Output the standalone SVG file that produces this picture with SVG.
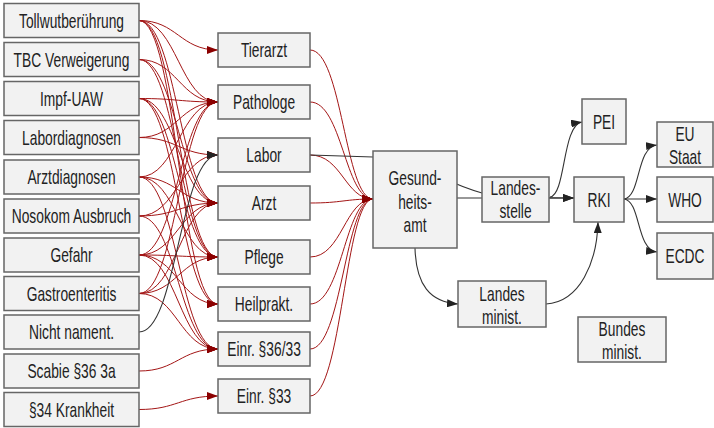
<svg xmlns="http://www.w3.org/2000/svg" width="714" height="428" viewBox="0 0 714 428">
<style>
.n rect{fill:#f2f2f2;stroke:#666;stroke-width:1.5}
.n text{font-family:"Liberation Sans",Arial,sans-serif;font-size:20px;fill:#222;text-anchor:middle}
.r{fill:none;stroke:#a31515;stroke-width:1;marker-end:url(#ar)}
.k{fill:none;stroke:#333;stroke-width:1.1;marker-end:url(#ak)}
</style>
<defs>
<marker id="ar" markerUnits="userSpaceOnUse" markerWidth="11" markerHeight="8" refX="11" refY="4" orient="auto"><path d="M0,0 L11,4 L0,8 z" fill="#8b0000"/></marker>
<marker id="ak" markerUnits="userSpaceOnUse" markerWidth="11" markerHeight="8" refX="11" refY="4" orient="auto"><path d="M0,0 L11,4 L0,8 z" fill="#222"/></marker>
</defs>
<g id="connectors">
<path class="r" d="M139,20.5 C177,20.5 180,50 218,50"/>
<path class="r" d="M139,20.5 C177,20.5 180,102 218,102"/>
<path class="r" d="M139,20.5 C177,20.5 180,203 218,203"/>
<path class="r" d="M139,20.5 C177,20.5 180,257 218,257"/>
<path class="r" d="M139,20.5 C177,20.5 180,304 218,304"/>
<path class="r" d="M139,59.5 C177,59.5 180,102 218,102"/>
<path class="r" d="M139,59.5 C177,59.5 180,203 218,203"/>
<path class="r" d="M139,59.5 C177,59.5 180,257 218,257"/>
<path class="r" d="M139,98.5 C177,98.5 180,102 218,102"/>
<path class="r" d="M139,98.5 C177,98.5 180,203 218,203"/>
<path class="r" d="M139,98.5 C177,98.5 180,257 218,257"/>
<path class="r" d="M139,98.5 C177,98.5 180,304 218,304"/>
<path class="r" d="M139,137.5 C177,137.5 180,102 218,102"/>
<path class="r" d="M139,137.5 C177,137.5 180,155 218,155"/>
<path class="r" d="M139,177 C177,177 180,102 218,102"/>
<path class="r" d="M139,177 C177,177 180,203 218,203"/>
<path class="r" d="M139,177 C177,177 180,257 218,257"/>
<path class="r" d="M139,177 C177,177 180,349 218,349"/>
<path class="r" d="M139,216 C177,216 180,155 218,155"/>
<path class="r" d="M139,216 C177,216 180,203 218,203"/>
<path class="r" d="M139,216 C177,216 180,349 218,349"/>
<path class="r" d="M139,255 C177,255 180,102 218,102"/>
<path class="r" d="M139,255 C177,255 180,203 218,203"/>
<path class="r" d="M139,255 C177,255 180,257 218,257"/>
<path class="r" d="M139,255 C177,255 180,304 218,304"/>
<path class="r" d="M139,255 C177,255 180,349 218,349"/>
<path class="r" d="M139,293.5 C177,293.5 180,102 218,102"/>
<path class="r" d="M139,293.5 C177,293.5 180,203 218,203"/>
<path class="r" d="M139,293.5 C177,293.5 180,257 218,257"/>
<path class="r" d="M139,293.5 C177,293.5 180,349 218,349"/>
<path class="r" d="M139,371 C177,371 180,349 218,349"/>
<path class="r" d="M139,409.5 C177,409.5 180,396 218,396"/>
<path class="k" d="M139,332 C177,332 180,155 218,155"/>
<path class="r" d="M310,50 C342,50 345,199 373,199"/>
<path class="r" d="M310,102 C342,102 345,199 373,199"/>
<path class="r" d="M310,155 C342,155 345,199 373,199"/>
<path class="r" d="M310,203 C342,203 345,199 373,199"/>
<path class="r" d="M310,257 C342,257 345,199 373,199"/>
<path class="r" d="M310,304 C342,304 345,199 373,199"/>
<path class="r" d="M310,349 C342,349 345,199 373,199"/>
<path class="r" d="M310,396 C342,396 345,199 373,199"/>
<path class="k" d="M310,155 L373,157 C420,160 440,182 482,193 C510,198 540,198 574,198"/>
<path class="k" d="M457,198 L574,198"/>
<path class="k" d="M550,197 C566,195 562,125 582,122"/>
<path class="k" d="M624,199 C641,197 636,147 657,145"/>
<path class="k" d="M624,199 L657,199"/>
<path class="k" d="M624,199 C641,201 636,250 657,252"/>
<path class="k" d="M415,248 C416,285 430,302 458,304"/>
<path class="k" d="M546,304 C580,302 597,262 598,222"/>
</g>
<g id="n_tollwut" class="n"><rect x="4" y="3.5" width="135" height="34"/><text transform="translate(71.5,27.7) scale(0.69,1)">Tollwutberührung</text></g>
<g id="n_tbc" class="n"><rect x="4" y="42.5" width="135" height="34"/><text transform="translate(71.5,66.7) scale(0.69,1)">TBC Verweigerung</text></g>
<g id="n_impf" class="n"><rect x="4" y="81.5" width="135" height="34"/><text transform="translate(71.5,105.7) scale(0.69,1)">Impf-UAW</text></g>
<g id="n_labordiag" class="n"><rect x="4" y="120.5" width="135" height="34"/><text transform="translate(71.5,144.7) scale(0.69,1)">Labordiagnosen</text></g>
<g id="n_arztdiag" class="n"><rect x="4" y="160" width="135" height="34"/><text transform="translate(71.5,184.2) scale(0.69,1)">Arztdiagnosen</text></g>
<g id="n_nosokom" class="n"><rect x="4" y="199" width="135" height="34"/><text transform="translate(71.5,223.2) scale(0.69,1)">Nosokom Ausbruch</text></g>
<g id="n_gefahr" class="n"><rect x="4" y="238" width="135" height="34"/><text transform="translate(71.5,262.2) scale(0.69,1)">Gefahr</text></g>
<g id="n_gastro" class="n"><rect x="4" y="276.5" width="135" height="34"/><text transform="translate(71.5,300.7) scale(0.69,1)">Gastroenteritis</text></g>
<g id="n_nichtnament" class="n"><rect x="4" y="315" width="135" height="34"/><text transform="translate(71.5,339.2) scale(0.69,1)">Nicht nament.</text></g>
<g id="n_scabie" class="n"><rect x="4" y="354" width="135" height="34"/><text transform="translate(71.5,378.2) scale(0.69,1)">Scabie §36 3a</text></g>
<g id="n_p34" class="n"><rect x="4" y="392.5" width="135" height="34"/><text transform="translate(71.5,416.7) scale(0.69,1)">§34 Krankheit</text></g>
<g id="n_tierarzt" class="n"><rect x="218" y="33" width="92" height="34"/><text transform="translate(264,57.2) scale(0.69,1)">Tierarzt</text></g>
<g id="n_pathologe" class="n"><rect x="218" y="85" width="92" height="34"/><text transform="translate(264,109.2) scale(0.69,1)">Pathologe</text></g>
<g id="n_labor" class="n"><rect x="218" y="138" width="92" height="34"/><text transform="translate(264,162.2) scale(0.69,1)">Labor</text></g>
<g id="n_arzt" class="n"><rect x="218" y="186" width="92" height="34"/><text transform="translate(264,210.2) scale(0.69,1)">Arzt</text></g>
<g id="n_pflege" class="n"><rect x="218" y="240" width="92" height="34"/><text transform="translate(264,264.2) scale(0.69,1)">Pflege</text></g>
<g id="n_heilprakt" class="n"><rect x="218" y="287" width="92" height="34"/><text transform="translate(264,311.2) scale(0.69,1)">Heilprakt.</text></g>
<g id="n_einr3633" class="n"><rect x="218" y="332" width="92" height="34"/><text transform="translate(264,356.2) scale(0.69,1)">Einr. §36/33</text></g>
<g id="n_einr33" class="n"><rect x="218" y="379" width="92" height="34"/><text transform="translate(264,403.2) scale(0.69,1)">Einr. §33</text></g>
<g id="n_ga" class="n"><rect x="373" y="151" width="84" height="97"/><text transform="translate(415,185) scale(0.69,1)">Gesund-</text><text transform="translate(415,208.5) scale(0.69,1)">heits-</text><text transform="translate(415,231.5) scale(0.69,1)">amt</text></g>
<g id="n_landesstelle" class="n"><rect x="482" y="177" width="67" height="45"/><text transform="translate(515.5,195) scale(0.69,1)">Landes-</text><text transform="translate(515.5,218) scale(0.69,1)">stelle</text></g>
<g id="n_pei" class="n"><rect x="582" y="99" width="44" height="45"/><text transform="translate(604,128.5) scale(0.69,1)">PEI</text></g>
<g id="n_rki" class="n"><rect x="574" y="177" width="50" height="45"/><text transform="translate(599,206.5) scale(0.69,1)">RKI</text></g>
<g id="n_eu" class="n"><rect x="657" y="122" width="56" height="45"/><text transform="translate(685,141) scale(0.69,1)">EU</text><text transform="translate(685,163.5) scale(0.69,1)">Staat</text></g>
<g id="n_who" class="n"><rect x="657" y="177" width="56" height="45"/><text transform="translate(685,206.5) scale(0.69,1)">WHO</text></g>
<g id="n_ecdc" class="n"><rect x="657" y="233" width="56" height="46"/><text transform="translate(685,263) scale(0.69,1)">ECDC</text></g>
<g id="n_landesminist" class="n"><rect x="458" y="281" width="88" height="46"/><text transform="translate(502,301) scale(0.69,1)">Landes</text><text transform="translate(502,324) scale(0.69,1)">minist.</text></g>
<g id="n_bundesminist" class="n"><rect x="578" y="317" width="88" height="45"/><text transform="translate(622,336) scale(0.69,1)">Bundes</text><text transform="translate(622,359) scale(0.69,1)">minist.</text></g>
</svg>
